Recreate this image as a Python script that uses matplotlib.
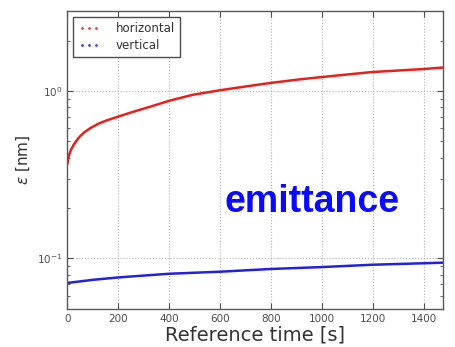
import matplotlib.pyplot as plt
from matplotlib.lines import Line2D

# values
t = [0, 5, 12, 26, 45, 65, 91, 124, 156, 196, 248, 300, 337, 403, 494, 599,
     704, 796, 914, 999, 1195, 1398, 1475]
eps_h = [0.370, 0.409, 0.440, 0.482, 0.528, 0.565, 0.602, 0.640, 0.669, 0.700,
         0.743, 0.785, 0.816, 0.877, 0.950, 1.01, 1.066, 1.116, 1.174, 1.211,
         1.297, 1.352, 1.38]
t_v = [0, 100, 200, 300, 400, 600, 800, 1000, 1200, 1475]
eps_v = [0.0714, 0.0745, 0.077, 0.079, 0.081, 0.0833, 0.0865, 0.0888, 0.0917, 0.0943]

fig = plt.figure(figsize=(4.56, 3.47), dpi=100)
ax = fig.add_axes([0.148, 0.110, 0.823, 0.858])

ax.plot(t, eps_h, color='#e8201c', lw=1.8)
ax.plot(t_v, eps_v, color='#2222dd', lw=1.8)

ax.set_yscale('log')
ax.set_xlim(0, 1475)
ax.set_ylim(0.05, 3)
ax.set_xticks(range(0, 1401, 200))

ax.grid(True, which='major', color='0.7', linestyle=':', lw=0.8)
ax.tick_params(which='both', direction='in', top=True, right=True, labelsize=7.5, colors='0.3')
ax.tick_params(which='major', length=4)
ax.tick_params(which='minor', length=2)
for s in ax.spines.values():
    s.set_color('0.35')
    s.set_linewidth(1.0)

ax.set_xlabel('Reference time [s]', fontsize=14, color='0.2', labelpad=1)
ax.set_ylabel(r'$\epsilon$ [nm]', fontsize=11, color='0.2', labelpad=4)

handles = [Line2D([], [], color='#f04040', marker='.', markersize=2, linestyle='none'),
           Line2D([], [], color='#4040f0', marker='.', markersize=2, linestyle='none')]
leg = ax.legend(handles, ['horizontal', 'vertical'], loc='upper left', numpoints=3,
                fontsize=8.5, fancybox=False, framealpha=1, borderaxespad=0.5,
                handletextpad=1.4, labelspacing=0.4, handlelength=1.8)
for txt in leg.get_texts():
    txt.set_color('0.2')
leg.get_frame().set_edgecolor('0.3')
leg.get_frame().set_linewidth(1.0)

fig.text(0.684, 0.419, 'emittance', color='#0a0aff', fontsize=27, fontweight='bold',
         family='Liberation Sans', ha='center', va='center')

fig.savefig('out.png', dpi=100)
